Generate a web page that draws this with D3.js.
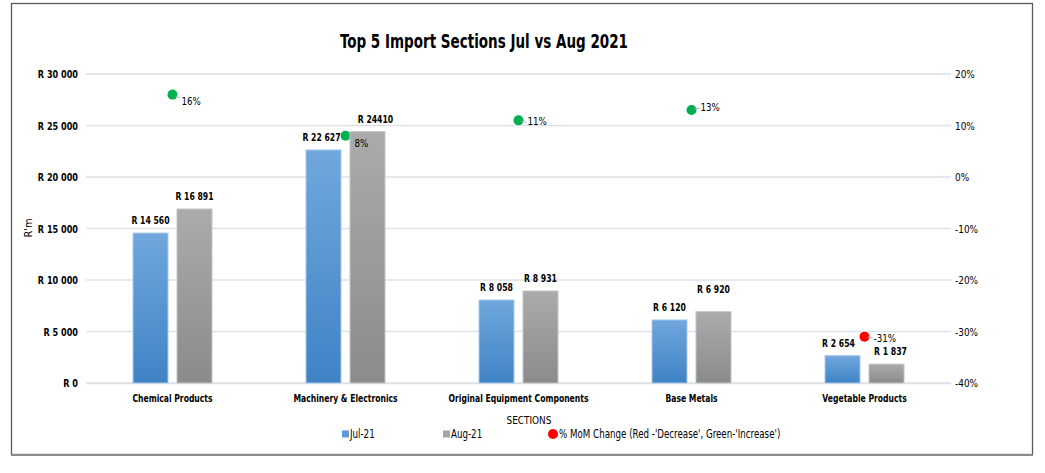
<!DOCTYPE html>
<html><head><meta charset="utf-8">
<script src="https://cdn.jsdelivr.net/npm/d3@7/dist/d3.min.js"></script>
<style>
body{margin:0;background:#fff;}
svg{display:block;}
text{font-family:"DejaVu Sans Condensed","Liberation Sans",sans-serif;fill:#000;}
</style></head><body>
<svg id="c" width="1045" height="473"></svg>
<script>
const categories = ["Chemical Products","Machinery & Electronics","Original Equipment Components","Base Metals","Vegetable Products"];
const series = ["Jul-21","Aug-21"];
const jul21 = [14560, 22627, 8058, 6120, 2654];
const aug21 = [16891, 24410, 8931, 6920, 1837];
const julLabels = ["R 14 560","R 22 627","R 8 058","R 6 120","R 2 654"];
const augLabels = ["R 16 891","R 24410","R 8 931","R 6 920","R 1 837"];
const momChange = [0.16, 0.08, 0.11, 0.13, -0.31];
const momLabels = ["16%","8%","11%","13%","-31%"];
const leftTicks = [0,5000,10000,15000,20000,25000,30000];
const rightTicks = [-0.4,-0.3,-0.2,-0.1,0,0.1,0.2];

// layout constants (label nudges, px)
const momLabelDy = [10, 11, 5, 1, 5];
const momLeaderDy = [3, 4, 2, -2, 1];
const julLabelDx = [0, -2, 0, 0, -4];
const augLabelDx = [0, 8, 0, 0, 4];
const augLabelDy = [0, 0, 0, -10, 0];

const svg = d3.select("#c");
const L=86,R=951,T=74,B=383;

function squeeze(sel, f){
  sel.each(function(){
    const n=this.getComputedTextLength();
    d3.select(this).attr("textLength", n*f).attr("lengthAdjust","spacingAndGlyphs");
  });
}

// border
svg.append("rect").attr("x",11.5).attr("y",3.5).attr("width",1021).attr("height",451)
  .attr("fill","#fff").attr("stroke","#595959").attr("stroke-width",1.3);
svg.append("line").attr("x1",11).attr("x2",1033).attr("y1",455).attr("y2",455).attr("stroke","#8c8c8c").attr("stroke-width",2.2);

const defs = svg.append("defs");
function grad(id,top,bot){
  const g=defs.append("linearGradient").attr("id",id).attr("x1",0).attr("x2",0).attr("y1",0).attr("y2",1);
  g.append("stop").attr("offset","0%").attr("stop-color",top);
  g.append("stop").attr("offset","100%").attr("stop-color",bot);
}
grad("gBlue","#70a7dd","#3f83c5");
grad("gGray","#ababab","#8b8b8b");

const x = d3.scaleBand().domain(categories).range([L,R]).padding(0);
const xs = d3.scaleBand().domain(series).range([0,x.bandwidth()]).paddingInner(9/44).paddingOuter(1.068);
const y = d3.scaleLinear().domain([0,30000]).range([B,T]);
const y2 = d3.scaleLinear().domain([-0.4,0.2]).range([B,T]);

// gridlines
svg.append("g").selectAll("line").data(leftTicks).join("line")
  .attr("x1",L).attr("x2",R).attr("y1",d=>y(d)).attr("y2",d=>y(d))
  .attr("stroke","#dde1e8").attr("stroke-width",1.5);

// left axis
const fmtR = d => "R " + d3.format(",")(d).replace(/,/g," ");
const ya = d3.axisLeft(y).tickValues(leftTicks).tickFormat(fmtR).tickSize(0).tickPadding(8);
const gya = svg.append("g").attr("transform",`translate(${L},0)`).call(ya);
gya.select(".domain").remove();
gya.selectAll("text").attr("font-size",10.5).attr("font-weight","bold").attr("dy","0.35em")
  .style("font-family",'"DejaVu Sans Condensed",sans-serif');
squeeze(gya.selectAll("text"),0.86);

// right axis
const ya2 = d3.axisRight(y2).tickValues(rightTicks).tickFormat(d=>d3.format(".0%")(d).replace("\u2212","-")).tickSize(0).tickPadding(4);
const gya2 = svg.append("g").attr("transform",`translate(${R},0)`).call(ya2);
gya2.select(".domain").remove();
gya2.selectAll("text").attr("font-size",11).attr("dy","0.35em")
  .style("font-family",'"DejaVu Sans Condensed",sans-serif');
squeeze(gya2.selectAll("text"),0.9);

// x axis labels
const xa = d3.axisBottom(x).tickSize(0).tickPadding(12);
const gxa = svg.append("g").attr("transform",`translate(0,${B})`).call(xa);
gxa.select(".domain").attr("stroke","#dde1e8").attr("stroke-width",1.5);
gxa.selectAll("text").attr("font-size",10).attr("font-weight","bold")
  .style("font-family",'"DejaVu Sans Condensed",sans-serif');
squeeze(gxa.selectAll("text"),0.85);

// MoM points (behind bars)
const cx = i => x(categories[i]) + x.bandwidth()/2;
svg.append("g").selectAll("circle").data(momChange).join("circle")
  .attr("cx",(d,i)=>cx(i)).attr("cy",d=>y2(d)).attr("r",5)
  .attr("fill",d=>d<0?"#ff0000":"#00b050");

// bars
const rows = categories.map((c,i)=>({c, vals:[
  {s:series[0],v:jul21[i],lab:julLabels[i],dx:julLabelDx[i],dy:0},
  {s:series[1],v:aug21[i],lab:augLabels[i],dx:augLabelDx[i],dy:augLabelDy[i]}]}));
const grp = svg.append("g").selectAll("g").data(rows).join("g").attr("transform",d=>`translate(${x(d.c)},0)`);
grp.selectAll("rect").data(d=>d.vals).join("rect")
  .attr("x",d=>xs(d.s)).attr("width",xs.bandwidth())
  .attr("y",d=>y(d.v)).attr("height",d=>B-y(d.v))
  .attr("fill",d=>d.s===series[0]?"url(#gBlue)":"url(#gGray)")
  .attr("stroke",d=>d.s===series[0]?"#a9c9ea":"#c4c4c4").attr("stroke-width",1);
const bl = grp.selectAll("text").data(d=>d.vals).join("text")
  .attr("x",d=>xs(d.s)+xs.bandwidth()/2+d.dx).attr("y",d=>y(d.v)-9+d.dy)
  .attr("text-anchor","middle").attr("font-size",11).attr("font-weight","bold")
  .text(d=>d.lab);
squeeze(bl,0.78);

// MoM leader lines and labels
const lab = svg.append("g");
momChange.forEach((d,i)=>{
  const px=cx(i), py=y2(d);
  lab.append("line").attr("x1",px+3).attr("y1",py+momLeaderDy[i]*0.5).attr("x2",px+8).attr("y2",py+momLeaderDy[i])
    .attr("stroke","#a6b4c4").attr("stroke-width",1);
  const t = lab.append("text").attr("x",px+9).attr("y",py+momLabelDy[i])
    .attr("font-size",11).attr("fill",d<0?"#ff0000":"#000")
    .text(momLabels[i]);
  squeeze(t,0.88);
});

// title
svg.append("text").attr("x",484).attr("y",48).attr("text-anchor","middle")
  .attr("font-size",19).attr("font-weight","bold")
  .attr("textLength",288).attr("lengthAdjust","spacingAndGlyphs")
  .text("Top 5 Import Sections Jul vs Aug 2021");

// axis titles
svg.append("text").attr("transform","translate(32,228) rotate(-90)").attr("text-anchor","middle")
  .attr("font-size",11).text("R'm");
const st = svg.append("text").attr("x",529).attr("y",424).attr("text-anchor","middle")
  .attr("font-size",11).text("SECTIONS");
squeeze(st,0.9);

// legend
const lg = svg.append("g");
const legendItems = [
  {name:series[0], x:342, type:"sq", color:"#5b9bd5"},
  {name:series[1], x:443, type:"sq", color:"#a5a5a5"},
  {name:"% MoM Change (Red -'Decrease', Green-'Increase')", x:548, type:"dot", color:"#ff0000"}
];
legendItems.forEach(it=>{
  if(it.type==="sq") lg.append("rect").attr("x",it.x).attr("y",430.5).attr("width",7).attr("height",7).attr("fill",it.color);
  else lg.append("circle").attr("cx",it.x+5).attr("cy",434).attr("r",5).attr("fill",it.color);
  const t = lg.append("text").attr("x",it.x+(it.type==="sq"?8:11)).attr("y",438).attr("font-size",11.5).text(it.name);
  squeeze(t,0.84);
});
</script></body></html>
